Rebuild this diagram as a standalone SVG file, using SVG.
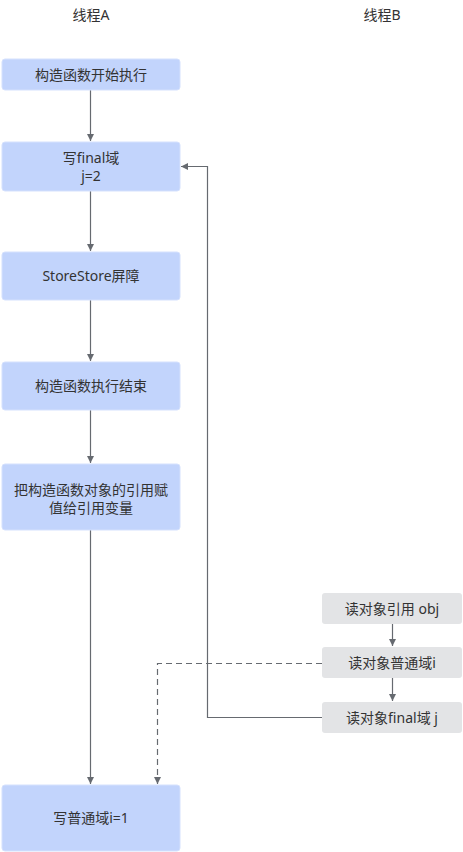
<svg xmlns="http://www.w3.org/2000/svg" width="463" height="852" viewBox="0 0 463 852">
<defs>
<marker id="ah" markerWidth="8" markerHeight="8" refX="7" refY="4" orient="auto" markerUnits="userSpaceOnUse">
<path d="M0,0.5 L7,4 L0,7.5 Z" fill="#666a70"/>
</marker>
<style>
text{font-family:"Noto Sans","Noto Sans CJK SC",sans-serif;font-size:14px;fill:#333;text-anchor:middle}
.a{fill:#c2d4fc;stroke:#d5e1fd;stroke-width:1}
.b{fill:#e3e4e6}
.c{fill:none;stroke:#666a70;stroke-width:1.2}
.d{stroke-dasharray:6,4}
</style>
</defs>
<g id="titleA"><text x="91" y="20">线程A</text></g>
<g id="titleB"><text x="382" y="20">线程B</text></g>
<g id="connectors">
<path class="c" d="M90.5,90 V141" marker-end="url(#ah)"/>
<path class="c" d="M90.5,191 V251" marker-end="url(#ah)"/>
<path class="c" d="M90.5,300 V361" marker-end="url(#ah)"/>
<path class="c" d="M90.5,410 V463" marker-end="url(#ah)"/>
<path class="c" d="M90.5,530 V784" marker-end="url(#ah)"/>
<path class="c" d="M392.5,624 V646" marker-end="url(#ah)"/>
<path class="c" d="M392.5,678 V701" marker-end="url(#ah)"/>
<path class="c" d="M322,717.5 H207.5 V166.5 H181" marker-end="url(#ah)"/>
<path class="c d" d="M322,663.5 H157.5 V784" marker-end="url(#ah)"/>
</g>
<g id="n1"><rect class="a" x="2" y="59" width="178" height="31" rx="3"/><text x="91" y="80">构造函数开始执行</text></g>
<g id="n2"><rect class="a" x="2" y="142" width="178" height="49" rx="3"/><text x="91" y="163">写final域</text><text x="91" y="181">j=2</text></g>
<g id="n3"><rect class="a" x="2" y="252" width="178" height="48" rx="3"/><text x="91" y="281">StoreStore屏障</text></g>
<g id="n4"><rect class="a" x="2" y="362" width="178" height="48" rx="3"/><text x="91" y="391">构造函数执行结束</text></g>
<g id="n5"><rect class="a" x="2" y="464" width="178" height="66" rx="3"/><text x="91" y="495">把构造函数对象的引用赋</text><text x="91" y="513">值给引用变量</text></g>
<g id="n6"><rect class="a" x="2" y="785" width="178" height="66" rx="3"/><text x="91" y="823">写普通域i=1</text></g>
<g id="m1"><rect class="b" x="322" y="593" width="140" height="31" rx="3"/><text x="392" y="614">读对象引用 obj</text></g>
<g id="m2"><rect class="b" x="322" y="647" width="140" height="31" rx="3"/><text x="392" y="668">读对象普通域i</text></g>
<g id="m3"><rect class="b" x="322" y="702" width="140" height="31" rx="3"/><text x="392" y="723">读对象final域 j</text></g>
</svg>
